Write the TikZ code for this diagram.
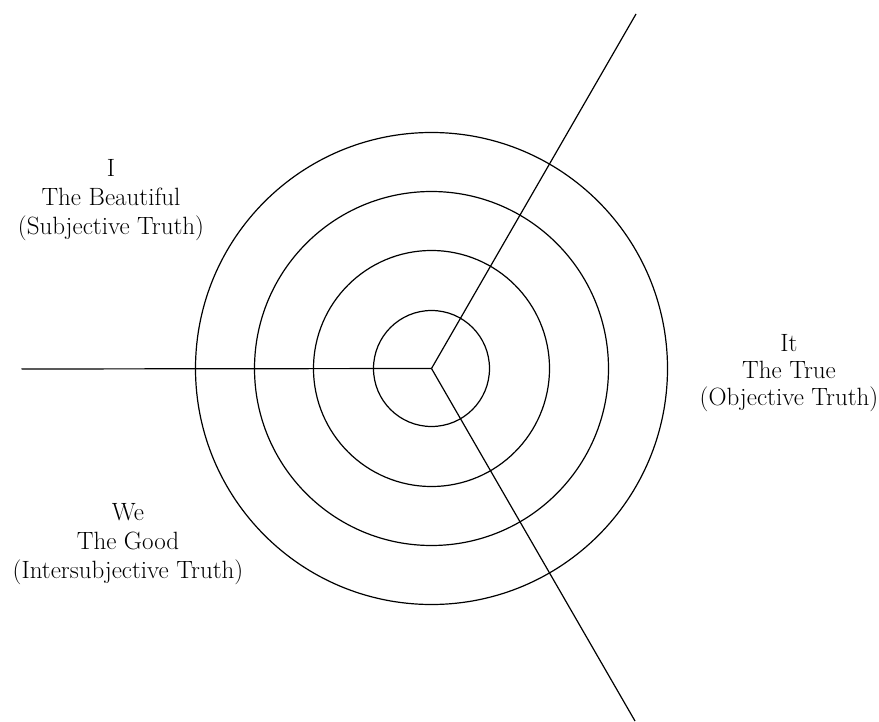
\documentclass[tikz,border=0pt]{standalone}
\begin{document}
\begin{tikzpicture}[x=1pt,y=-1pt,
  ring/.style={draw, circle, inner sep=0pt, line width=1.2pt},
  spoke/.style={line width=1.2pt},
  lbl/.style={align=center, inner sep=0pt, font=\fontsize{25}{29}\selectfont}]
\useasboundingbox (0,0) rectangle (879,722);
\coordinate (c) at (431.5,368.5);
\node[ring, minimum size=116pt] (r1) at (c) {};
\node[ring, minimum size=236pt] (r2) at (c) {};
\node[ring, minimum size=354pt] (r3) at (c) {};
\node[ring, minimum size=472pt] (r4) at (c) {};
\coordinate (eL) at (21.5,369);
\coordinate (eT) at (636,14);
\coordinate (eB) at (635,721);
\draw[spoke] (c) -- (eL);
\draw[spoke] (c) -- (eT);
\draw[spoke] (c) -- (eB);
\node[lbl] (i) at (111,200) {I\\The Beautiful\\(Subjective Truth)};
\node[lbl, font=\fontsize{25}{27}\selectfont] (it) at (789,373) {It\\The True\\(Objective Truth)};
\node[lbl] (we) at (128,544) {We\\The Good\\(Intersubjective Truth)};
\end{tikzpicture}
\end{document}
